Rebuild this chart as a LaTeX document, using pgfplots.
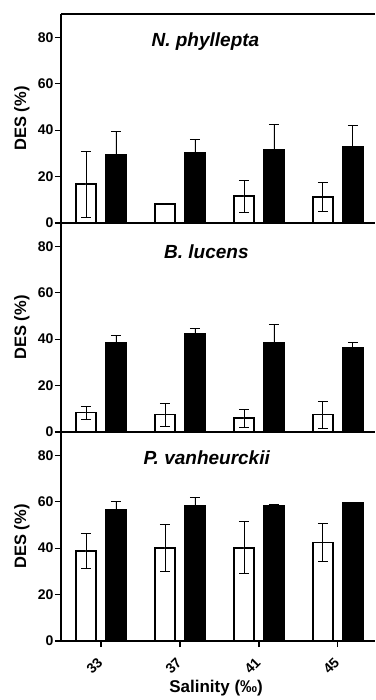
\documentclass[border=0pt]{standalone}
\usepackage{pgfplots}
\pgfplotsset{compat=1.18}
\usepackage{fontspec}
\setmainfont{Liberation Sans}
\tikzset{ttl/.style={font=\bfseries\itshape\fontsize{19}{19}\selectfont}}
\begin{document}
\begin{tikzpicture}
\path[use as bounding box] (-61pt,-59pt) rectangle (314pt,641pt);
\pgfplotsset{
  panel/.style={
    width=314pt, height=209pt, scale only axis,
    ybar=10pt, bar width=20pt,
    xmin=-0.506, xmax=3.47, ymin=0, ymax=90,
    axis lines=left, axis line style={-, line width=1.6pt},
    ytick={0,20,40,60,80},
    tick align=outside, major tick length=6pt,
    tick style={line width=1.2pt, black},
    /pgf/number format/assume math mode=true,
    ticklabel style={font=\bfseries\fontsize{14}{14}\selectfont},
    yticklabel style={xshift=2pt},
    ylabel={DES (\%)},
    ylabel style={at={(axis description cs:-0.125,0.5)}, anchor=center, font=\bfseries\fontsize{16.5}{16.5}\selectfont},
    clip=false,
  },
  wbar/.style={fill=white, draw=black, line width=1.6pt,
    error bars/.cd, y dir=both, y explicit,
    error bar style={line width=0.8pt},
    error mark options={rotate=90, mark size=5pt, line width=0.8pt}},
  bbar/.style={fill=black, draw=black, line width=1.6pt,
    error bars/.cd, y dir=both, y explicit,
    error bar style={line width=0.8pt},
    error mark options={rotate=90, mark size=5pt, line width=0.8pt}},
}
% Panel 1
\begin{axis}[panel, at={(0pt,418pt)}, anchor=south west, xtick=\empty]
\addplot[wbar] coordinates {(0,16.7) +- (0,14.2) (1,8.2) +- (0,0.3) (2,11.5) +- (0,6.8) (3,11.2) +- (0,6.4)};
\addplot[bbar] coordinates {(0,29.4) +- (0,10.0) (1,30.1) +- (0,6.0) (2,31.6) +- (0,11.0) (3,32.9) +- (0,9.0)};
\draw[line width=1.6pt] (rel axis cs:0,1) -- (rel axis cs:1,1);
\node[ttl] at (rel axis cs:0.46,0.867) {N. phyllepta};
\end{axis}
% Panel 2
\begin{axis}[panel, at={(0pt,209pt)}, anchor=south west, xtick=\empty]
\addplot[wbar] coordinates {(0,8.4) +- (0,2.8) (1,7.5) +- (0,4.9) (2,5.9) +- (0,3.8) (3,7.5) +- (0,5.8)};
\addplot[bbar] coordinates {(0,38.4) +- (0,3.1) (1,42.3) +- (0,2.1) (2,38.5) +- (0,7.9) (3,36.2) +- (0,2.2)};
\node[ttl] at (rel axis cs:0.463,0.865) {B. lucens};
\end{axis}
% Panel 3
\begin{axis}[panel, at={(0pt,0pt)}, anchor=south west,
  xtick={0,1,2,3}, xticklabels={33,37,41,45},
  xticklabel style={xshift=-6.5pt, yshift=-19pt, rotate=45, anchor=center, inner sep=0.5pt},
  xlabel={Salinity (‰)},
  xlabel style={at={(axis description cs:0.494,-0.224)}, anchor=center, inner sep=0.5pt, font=\bfseries\fontsize{17}{17}\selectfont}]
\addplot[wbar] coordinates {(0,38.7) +- (0,7.5) (1,40.1) +- (0,10.1) (2,40.1) +- (0,11.2) (3,42.5) +- (0,8.1)};
\addplot[bbar] coordinates {(0,56.5) +- (0,3.7) (1,58.2) +- (0,3.6) (2,58.4) +- (0,0.3) (3,59.4) +- (0,0.2)};
\node[ttl] at (rel axis cs:0.464,0.877) {P. vanheurckii};
\end{axis}
\end{tikzpicture}
\end{document}
